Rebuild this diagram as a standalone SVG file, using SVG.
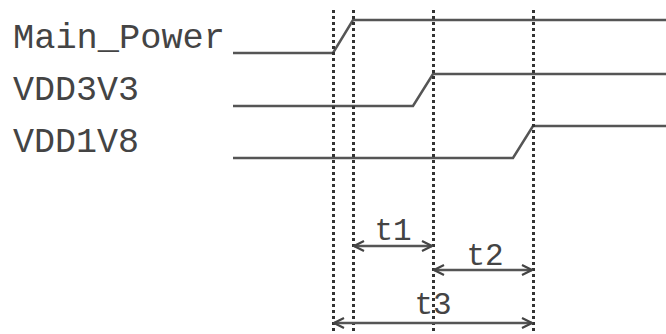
<svg xmlns="http://www.w3.org/2000/svg" width="666" height="334" viewBox="0 0 666 334">
<defs>
<style>
.lbl{font-family:"Liberation Mono","Courier New",monospace;font-size:35px;fill:#444;}
.tl{font-family:"Liberation Mono","Courier New",monospace;font-size:31px;fill:#444;text-anchor:middle;}
.sig{fill:none;stroke:#555;stroke-width:2.5;}
.dot{stroke:#333;stroke-width:3;stroke-dasharray:3 3;}
.dim{stroke:#555;stroke-width:2.5;fill:none;}
</style>
<marker id="ah" viewBox="0 0 12 12" refX="11" refY="6" markerWidth="12" markerHeight="12" markerUnits="userSpaceOnUse" orient="auto-start-reverse">
<path d="M1,1 L11,6 L1,11" fill="none" stroke="#444" stroke-width="2.2"/>
</marker>
</defs>
<rect width="666" height="334" fill="#fff"/>
<g id="main_power">
<text class="lbl" x="13" y="48" textLength="212" lengthAdjust="spacingAndGlyphs">Main_Power</text>
<path class="sig" d="M233,53 H333 L353,20 H666"/>
</g>
<g id="vdd3v3">
<text class="lbl" x="13" y="100">VDD3V3</text>
<path class="sig" d="M233,106 H413 L433,74 H666"/>
</g>
<g id="vdd1v8">
<text class="lbl" x="13" y="152">VDD1V8</text>
<path class="sig" d="M233,158 H513 L533,126 H666"/>
</g>
<g id="guides">
<line class="dot" x1="333.5" y1="10" x2="333.5" y2="334"/>
<line class="dot" x1="353.5" y1="10" x2="353.5" y2="334"/>
<line class="dot" x1="433.5" y1="10" x2="433.5" y2="334"/>
<line class="dot" x1="533.5" y1="10" x2="533.5" y2="334"/>
</g>
<g id="connectors">
<line class="dim" x1="354" y1="246" x2="432" y2="246" marker-start="url(#ah)" marker-end="url(#ah)"/>
<line class="dim" x1="434" y1="270" x2="532" y2="270" marker-start="url(#ah)" marker-end="url(#ah)"/>
<line class="dim" x1="334" y1="323" x2="532" y2="323" marker-start="url(#ah)" marker-end="url(#ah)"/>
</g>
<g id="labels">
<text class="tl" x="393" y="240">t1</text>
<text class="tl" x="485" y="265">t2</text>
<text class="tl" x="433" y="314">t3</text>
</g>
</svg>
